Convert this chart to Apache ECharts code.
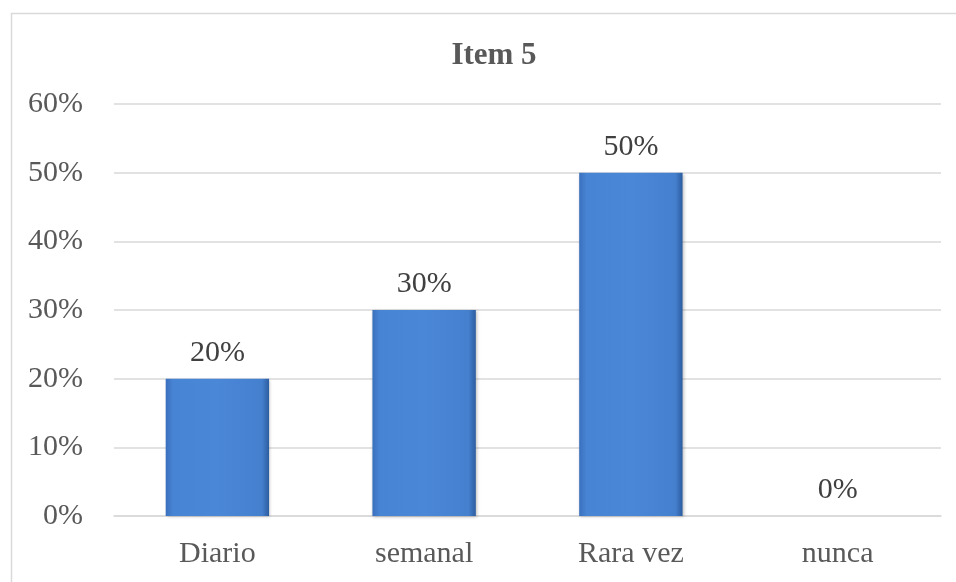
<!DOCTYPE html>
<html><head><meta charset="utf-8">
<script src="https://cdn.jsdelivr.net/npm/echarts@6/dist/echarts.min.js"></script>
<style>html,body{margin:0;padding:0;background:#fff}#c{width:956px;height:582px}</style>
</head><body><div id="c"></div>
<script>
const titleText = "Item 5";
const categories = ["Diario", "semanal", "Rara vez", "nunca"];
const values = [20, 30, 50, 0];
const yTicks = [0, 10, 20, 30, 40, 50, 60];

const font = "'Liberation Serif', 'Times New Roman', serif";
const chart = echarts.init(document.getElementById('c'), null, {renderer: 'canvas'});
chart.setOption({
  backgroundColor: '#fff',
  animation: false,
  graphic: [{
    type: 'rect', shape: {x: 11.5, y: 13.5, width: 960, height: 600},
    style: {fill: 'none', stroke: '#d9d9d9', lineWidth: 1.5}, silent: true
  }],
  title: {
    text: titleText, left: 489, top: 35, textAlign: 'center',
    textStyle: {fontFamily: font, fontWeight: 'bold', fontSize: 31, color: '#595959'}
  },
  grid: {left: 114, right: 15, top: 104, bottom: 66},
  xAxis: {
    type: 'category', data: categories,
    axisLine: {show: true, lineStyle: {color: '#d9d9d9', width: 1.5}},
    axisTick: {show: false},
    axisLabel: {fontFamily: font, fontSize: 30, color: '#595959', margin: 23}
  },
  yAxis: {
    type: 'value', min: yTicks[0], max: yTicks[yTicks.length - 1], interval: 10,
    axisLine: {show: false}, axisTick: {show: false},
    splitLine: {lineStyle: {color: '#d9d9d9', width: 1.5}},
    axisLabel: {fontFamily: font, fontSize: 30, color: '#595959', margin: 31,
      formatter: v => v + '%'}
  },
  series: [{
    type: 'bar', data: values, barWidth: '50%',
    itemStyle: {
      color: new echarts.graphic.LinearGradient(0, 0, 1, 0, [
        {offset: 0, color: '#3a70bd'},
        {offset: 0.07, color: '#4784d3'},
        {offset: 0.5, color: '#4a87d6'},
        {offset: 0.93, color: '#4580cf'},
        {offset: 1, color: '#2c5d9f'}
      ]),
      borderWidth: 0,
      shadowColor: 'rgba(0,0,0,0.25)', shadowBlur: 3, shadowOffsetX: 1, shadowOffsetY: 1
    },
    label: {
      show: true, position: 'top', distance: 11,
      fontFamily: font, fontSize: 30, color: '#404040',
      formatter: p => p.value + '%'
    }
  }]
});
</script></body></html>
